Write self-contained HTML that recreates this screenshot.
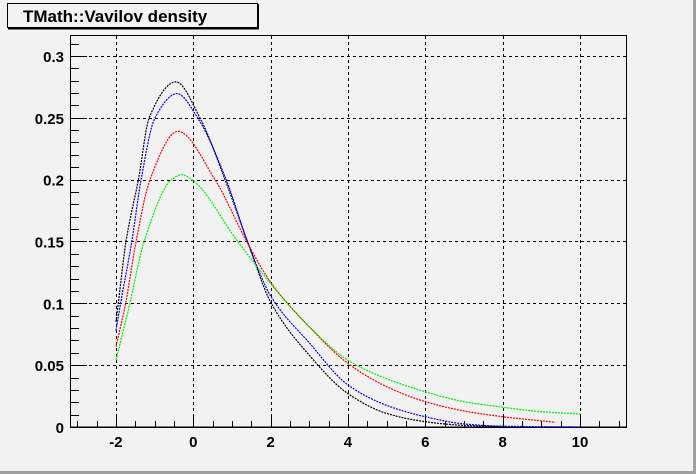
<!DOCTYPE html>
<html><head><meta charset="utf-8"><style>
html,body{margin:0;padding:0;background:#f2f2f2;}
#c{position:relative;width:696px;height:474px;background:#f2f2f2;overflow:hidden;}
svg{position:absolute;left:0;top:0;}
text{font-family:"Liberation Sans",Arial,sans-serif;font-weight:bold;}
</style></head><body><div id="c">
<svg id="s" width="696" height="474" xmlns="http://www.w3.org/2000/svg">
<rect x="0" y="0" width="696" height="474" fill="#f2f2f2"/>
<line x1="0" y1="472.5" x2="696" y2="472.5" stroke="#a0a0a0" stroke-width="3"/>
<line x1="694.5" y1="0" x2="694.5" y2="474" stroke="#a0a0a0" stroke-width="3"/>
<rect x="7.5" y="3.5" width="250" height="24" fill="#f2f2f2" stroke="#000" stroke-width="1"/>
<line x1="258" y1="4" x2="258" y2="29" stroke="#000" stroke-width="2"/>
<line x1="8" y1="28.5" x2="259" y2="28.5" stroke="#000" stroke-width="2"/>
<text x="23" y="22" font-size="17">TMath::Vavilov density</text>
<g id="grid" stroke="#000" stroke-width="1" stroke-dasharray="3,3" fill="none"></g>
<rect x="70.5" y="35.5" width="556" height="391.5" fill="none" stroke="#000" stroke-width="1"/>
<g id="ticks" stroke="#000" stroke-width="1"></g>
<g id="labels" font-size="15" fill="#000"></g>
<g id="curves" fill="none" stroke-width="1.2" stroke-dasharray="2,1"></g>
</svg></div>
<script>
var NS="http://www.w3.org/2000/svg";
function X(x){return 193.3+38.67*x;}function Y(y){return 427-1237*y;}
function el(p,t,a){var e=document.createElementNS(NS,t);for(var k in a)e.setAttribute(k,a[k]);document.getElementById(p).appendChild(e);return e;}
for(var i=-2;i<=10;i+=2){var x=Math.round(X(i))+0.5;el('grid','line',{x1:x,y1:36,x2:x,y2:427});
 var t=el('labels','text',{x:X(i),y:447,'text-anchor':'middle'});t.textContent=i;}
for(var j=1;j<=6;j++){var y=Math.round(Y(j*0.05))+0.5;el('grid','line',{x1:71,y1:y,x2:626,y2:y});}
for(var j=0;j<=6;j++){var t=el('labels','text',{x:64,y:Y(j*0.05)+6,'text-anchor':'end'});t.textContent=j==0?"0":(j*0.05).toFixed(2).replace(/0$/,'');}
for(var v=-3;v<=11.2;v+=0.5){var x=Math.round(X(v))+0.5;if(x<71||x>626)continue;var L=(Math.abs(v%2)<1e-6)?12:6;el('ticks','line',{x1:x,y1:427,x2:x,y2:427-L});}
for(var k=0;k<=31;k++){var y=Math.round(Y(k*0.01))+0.5;if(y<36)continue;var L=(k%5==0)?17:9;el('ticks','line',{x1:70,y1:y,x2:70+L,y2:y});}
el('ticks','line',{x1:70,y1:427.5,x2:627,y2:427.5});
var C={
"#000":[[-2,0.085],[-1.94,0.1],[-1.74,0.15],[-1.42,0.2],[-1.14,0.25],[-0.45,0.279],[0.17,0.25],[0.82,0.2],[1.4,0.15],[2,0.101],[3,0.058],[4,0.027],[5,0.011],[6,0.0043],[7,0.0013],[8.1,0.0004]],
"#00f":[[-2,0.078],[-1.88,0.1],[-1.59,0.15],[-1.35,0.2],[-0.99,0.25],[-0.42,0.2695],[0.11,0.25],[0.85,0.2],[1.4,0.15],[2,0.106],[3,0.068],[4,0.034],[5,0.0175],[6,0.0083],[7,0.0025],[8,0.0006],[10,0]],
"#f00":[[-2,0.065],[-1.75,0.1],[-1.48,0.15],[-1.12,0.2],[-0.4,0.239],[0.56,0.2],[1.38,0.15],[2,0.117],[3,0.081],[4,0.0514],[5,0.0326],[6,0.0205],[7,0.013],[8,0.0083],[9,0.005],[9.36,0.0038]],
"#0e0":[[-2,0.054],[-1.64,0.1],[-1.27,0.15],[-0.56,0.2],[-0.3,0.204],[-0.04,0.2],[1.15,0.15],[2,0.116],[3,0.081],[4,0.054],[5,0.039],[6,0.0285],[7,0.0205],[8,0.016],[9,0.0124],[10,0.0105]]};
function mono(P){var n=P.length,x=P.map(a=>a[0]),y=P.map(a=>a[1]),d=[],m=[];
 for(var i=0;i<n-1;i++)d[i]=(y[i+1]-y[i])/(x[i+1]-x[i]);
 m[0]=d[0];m[n-1]=d[n-2];
 for(var i=1;i<n-1;i++){if(d[i-1]*d[i]<=0)m[i]=0;else{var w1=2*(x[i+1]-x[i])+(x[i]-x[i-1]),w2=(x[i+1]-x[i])+2*(x[i]-x[i-1]);m[i]=(w1+w2)/(w1/d[i-1]+w2/d[i]);}}
 return function(t){var i=0;while(i<n-2&&t>x[i+1])i++;var h=x[i+1]-x[i],s=(t-x[i])/h,s2=s*s,s3=s2*s;
  return (2*s3-3*s2+1)*y[i]+(s3-2*s2+s)*h*m[i]+(-2*s3+3*s2)*y[i+1]+(s3-s2)*h*m[i+1];};}
for(var col in C){var P=C[col],f=mono(P),x0=P[0][0],x1=P[P.length-1][0],d="";
 for(var t=x0;t<=x1+1e-9;t+=0.02){var v=Math.max(0,f(t));d+=(d?" L":"M")+X(t).toFixed(1)+","+Y(v).toFixed(1);}
 el('curves','path',{d:d,stroke:col});}
</script></body></html>
